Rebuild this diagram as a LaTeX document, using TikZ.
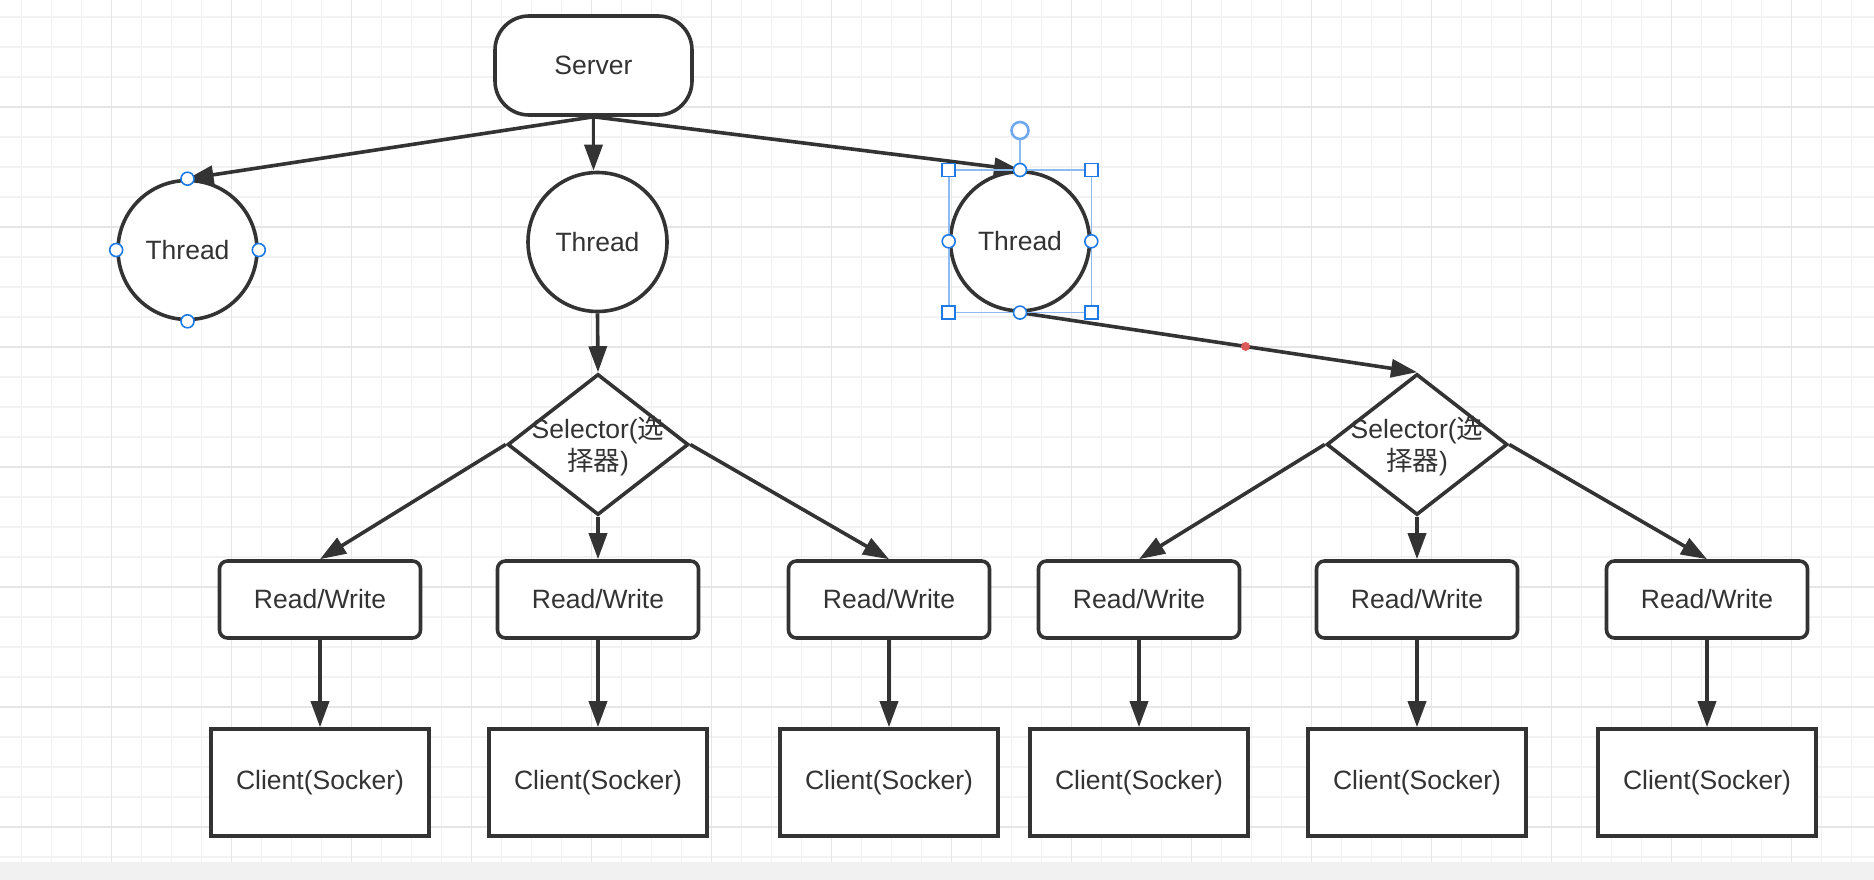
\documentclass[tikz,border=0pt]{standalone}
\usepackage{fontspec}
\setmainfont{Liberation Sans}
\newfontfamily\cjkfont{Noto Sans CJK SC}
\usetikzlibrary{shapes.geometric,arrows.meta,calc}
\definecolor{ink}{HTML}{333333}
\definecolor{gridminor}{HTML}{F2F2F2}
\definecolor{gridmajor}{HTML}{E6E6E6}
\definecolor{stripgray}{HTML}{F1F1F1}
\definecolor{handleblue}{HTML}{1E7BE6}
\definecolor{selblue}{HTML}{8DBBF0}
\definecolor{rotblue}{HTML}{70A9EE}
\definecolor{dotred}{HTML}{DB5A5A}
\tikzset{
  base/.style={draw=ink, line width=3.6pt, fill=white, text=ink,
    font=\fontsize{26.5}{32}\selectfont, inner sep=0pt},
  serverbox/.style={base, rectangle, rounded corners=34pt, minimum width=197pt, minimum height=99pt},
  threadnode/.style={base, circle, minimum size=139pt},
  selnode/.style={base, diamond, minimum width=181pt, minimum height=141pt},
  seltext/.style={text=ink, font=\fontsize{26.5}{32}\selectfont, align=center, inner sep=0pt},
  rwbox/.style={base, rectangle, rounded corners=8pt, minimum width=201pt, minimum height=77pt},
  clientbox/.style={base, rectangle, minimum width=218pt, minimum height=107pt},
  arr/.style={draw=ink, line width=3.6pt, -{Triangle[length=26pt,width=18pt]}},
  cirhandle/.style={circle, draw=handleblue, fill=white, line width=1.6pt, minimum size=13pt, inner sep=0pt},
  sqhandle/.style={rectangle, draw=handleblue, fill=white, line width=1.6pt, minimum size=13pt, inner sep=0pt},
  selframe/.style={draw=selblue, line width=1.6pt},
  rothandle/.style={circle, draw=rotblue, fill=white, line width=2.6pt, minimum size=17pt, inner sep=0pt},
  reddot/.style={circle, fill=dotred, minimum size=9pt, inner sep=0pt},
  gminor/.style={draw=gridminor, line width=1.2pt},
  gmajor/.style={draw=gridmajor, line width=1.6pt},
}
\begin{document}
\begin{tikzpicture}[x=1pt, y=-1pt]
\useasboundingbox (0,0) rectangle (1874,880);
\fill[white] (0,0) rectangle (1874,880);
% grid
\foreach \x in {21.6,51.6,...,1874} \draw[gminor] (\x,0) -- (\x,862);
\foreach \y in {17,47,...,860} \draw[gminor] (0,\y) -- (1874,\y);
\foreach \x in {111.6,231.6,...,1874} \draw[gmajor] (\x,0) -- (\x,862);
\foreach \y in {107,227,...,860} \draw[gmajor] (0,\y) -- (1874,\y);
\fill[stripgray] (0,862) rectangle (1874,880);

% nodes
\node[serverbox] (server) at (593.5,65.5) {Server};
\node[threadnode] (thread1) at (187.5,250) {Thread};
\node[threadnode] (thread2) at (597.5,242) {Thread};
\node[threadnode] (thread3) at (1020,241.3) {Thread};
\node[selnode] (sel1) at (598,444.5) {};
\node[selnode] (sel2) at (1417,444.5) {};
\node[seltext] (sel1t) at (598,446) {Selector({\cjkfont 选}\\{\cjkfont 择器})};
\node[seltext] (sel2t) at (1417,446) {Selector({\cjkfont 选}\\{\cjkfont 择器})};

\foreach \i/\x in {1/320,2/598,3/889,4/1139,5/1417,6/1707}{
  \node[rwbox] (rw\i) at (\x,599.5) {Read/Write};
  \node[clientbox] (cl\i) at (\x,782.5) {Client(Socker)};
}

% connectors
\draw[arr] (server.south) -- (thread1.north);
\draw[arr] (server.south) -- (server.south |- thread2.north);
\draw[arr] (server.south) -- (thread3.north);
\draw[arr] (thread2.south) -- (sel1.north);
\draw[arr] (thread3.south) -- node[pos=0.568, reddot] (dot) {} (sel2.north);
\draw[arr] (sel1.west) -- (rw1.north);
\draw[arr] (sel1.south) -- (rw2.north);
\draw[arr] (sel1.east) -- (rw3.north);
\draw[arr] (sel2.west) -- (rw4.north);
\draw[arr] (sel2.south) -- (rw5.north);
\draw[arr] (sel2.east) -- (rw6.north);
\foreach \i in {1,...,6} \draw[arr] (rw\i.south) -- (cl\i.north);

% selection handles on thread1
\foreach \a in {north,south,east,west} \node[cirhandle] at (thread1.\a) {};

% selection frame on thread3
\draw[selframe] (thread3.west |- thread3.north) rectangle (thread3.east |- thread3.south);
\node[rothandle] (rot) at ([yshift=39.5pt]thread3.north) {};
\draw[selframe] (rot) -- (thread3.north);
\node[sqhandle] at (thread3.west |- thread3.north) {};
\node[sqhandle] at (thread3.east |- thread3.north) {};
\node[sqhandle] at (thread3.west |- thread3.south) {};
\node[sqhandle] at (thread3.east |- thread3.south) {};
\foreach \a in {north,south,east,west} \node[cirhandle] at (thread3.\a) {};
\end{tikzpicture}
\end{document}
